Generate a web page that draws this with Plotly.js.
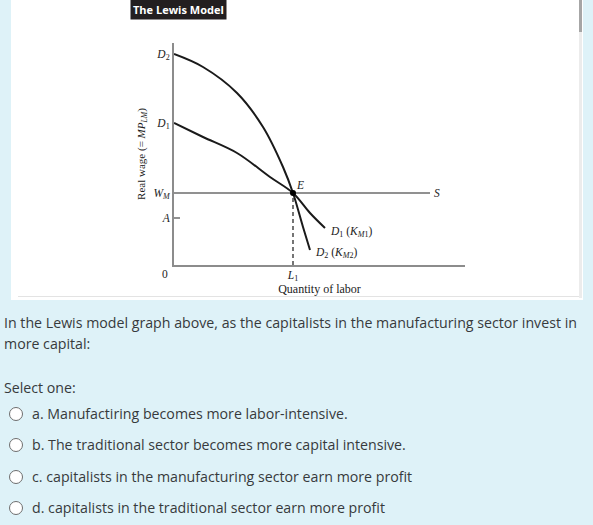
<!DOCTYPE html>
<html>
<head>
<meta charset="utf-8">
<script src="https://cdn.plot.ly/plotly-3.0.1.min.js"></script>
<style>
  body { margin: 0; width: 593px; height: 525px; background-color: #def2f8; overflow: hidden;
         font-family: "Open Sans", sans-serif; color: #373a3c; position: relative; }
  #panel { position: absolute; left: 11px; top: 0; width: 572px; height: 300px; background: #fff; }
  #frame { position: absolute; left: 18px; top: -2px; width: 561px; height: 298px;
           border: 1px solid #e3e3e3; border-top: none; }
  #track { position: absolute; left: 579px; top: 0; width: 3px; height: 298px; background: #ececec; }
  #thumb { position: absolute; left: 579px; top: 0; width: 3px; height: 32px; background: #a6a6a6; }
  #myDiv { position: absolute; left: 18px; top: 0; width: 561px; height: 296px; }
  .txt { position: absolute; left: 4px; font-size: 14.2px; line-height: 21px; white-space: nowrap; }
  .opt { position: absolute; left: 9px; font-size: 14.2px; line-height: 21px; white-space: nowrap; }
  .radio { display: inline-block; width: 12px; height: 12px; border: 1px solid #6e6e6e; border-radius: 50%;
           background: #fff; vertical-align: -2px; margin-right: 9px; }
</style>
</head>
<body>
<div id="panel"></div>
<div id="frame"></div>
<div id="track"></div>
<div id="thumb"></div>
<div id="myDiv"></div>

<div class="txt" style="top:312px">In the Lewis model graph above, as the capitalists in the manufacturing sector invest in<br>more capital:</div>
<div class="txt" style="top:377px">Select one:</div>
<div class="opt" style="top:403px"><span class="radio"></span>a. Manufactiring becomes more labor-intensive.</div>
<div class="opt" style="top:434px"><span class="radio"></span>b. The traditional sector becomes more capital intensive.</div>
<div class="opt" style="top:466px"><span class="radio"></span>c. capitalists in the manufacturing sector earn more profit</div>
<div class="opt" style="top:497px"><span class="radio"></span>d. capitalists in the traditional sector earn more profit</div>

<script>
// Curve points (labour on x, real wage on y)
var d2X = [0, 2.9, 6.3, 8.9, 10.9, 11.9, 12.9, 13.6]
var d2Y = [21.1, 19.8, 17.2, 13.8, 9.8, 7.2, 3.8, 1.5]
var d1X = [0, 2.9, 6.3, 9.6, 11.9, 13.6, 15.1]
var d1Y = [14.2, 12.8, 11.2, 8.8, 7.2, 5.2, 3.7]

var wageM = 7.2   // W_M, manufacturing wage (supply line S)
var wageA = 4.7   // A, traditional sector wage
var laborL1 = 11.9
var supplyEnd = 25.6
var xMax = 29.1
var yMax = 22.2

var yTickVals = [d2Y[0], d1Y[0], wageM, wageA]
var yTickText = ['<i>D</i><sub>2</sub>', '<i>D</i><sub>1</sub>', '<i>W</i><sub><i>M</i></sub>', '<i>A</i>']
var xTickVals = [laborL1]
var xTickText = ['<i>L</i><sub>1</sub>']

var serif = 'Liberation Serif, DejaVu Serif, serif'

var data = [
  {x: d2X, y: d2Y, type: 'scatter', mode: 'lines', line: {color: '#1a1a1a', width: 2, shape: 'spline'}, hoverinfo: 'skip'},
  {x: d1X, y: d1Y, type: 'scatter', mode: 'lines', line: {color: '#1a1a1a', width: 2, shape: 'spline'}, hoverinfo: 'skip'},
  {x: [0, supplyEnd], y: [wageM, wageM], type: 'scatter', mode: 'lines', line: {color: '#6d6d6d', width: 1.5}, hoverinfo: 'skip'},
  {x: [laborL1, laborL1], y: [0, wageM], type: 'scatter', mode: 'lines', line: {color: '#1a1a1a', width: 1.2, dash: '4px,3px'}, hoverinfo: 'skip'},
  {x: [0, 0.6], y: [wageA, wageA], type: 'scatter', mode: 'lines', line: {color: '#6d6d6d', width: 1.5}, hoverinfo: 'skip'},
  {x: [laborL1], y: [wageM], type: 'scatter', mode: 'markers', marker: {color: '#000', size: 6}, hoverinfo: 'skip'}
]

var layout = {
  width: 561,
  height: 296,
  margin: {l: 156, r: 114, t: 43, b: 31},
  paper_bgcolor: '#ffffff',
  plot_bgcolor: '#ffffff',
  showlegend: false,
  font: {family: serif, color: '#222', size: 11},
  xaxis: {
    range: [0, xMax],
    showline: true, linecolor: '#8c8c8c', linewidth: 2,
    showgrid: false, zeroline: false,
    tickvals: xTickVals, ticktext: xTickText, ticks: '', ticklabelstandoff: -2,
    tickfont: {family: serif, size: 11.5, color: '#222'},
    title: {text: 'Quantity of labor', font: {family: serif, size: 12, color: '#222'}, standoff: 3}
  },
  yaxis: {
    range: [0, yMax],
    showline: true, linecolor: '#8c8c8c', linewidth: 2,
    showgrid: false, zeroline: false,
    tickvals: yTickVals, ticktext: yTickText, ticks: '',
    tickfont: {family: serif, size: 11.5, color: '#222'},
    title: {text: 'Real wage (= <i>MP</i><sub><i>LM</i></sub>)', font: {family: serif, size: 11, color: '#222'}, standoff: 6}
  },
  annotations: [
    {text: '<b>The Lewis Model</b>', xref: 'paper', yref: 'paper', x: 0, y: 1, xanchor: 'left', yanchor: 'top',
     xshift: -44, yshift: 44, showarrow: false, bgcolor: '#231f20', borderpad: 2,
     font: {family: 'Open Sans, sans-serif', size: 11, color: '#ffffff'}},
    {text: '<i>E</i>', x: laborL1, y: wageM, xanchor: 'left', yanchor: 'bottom', xshift: 1, yshift: 0, showarrow: false,
     font: {family: serif, size: 11.5}},
    {text: '<i>S</i>', x: supplyEnd, y: wageM, xanchor: 'left', yanchor: 'middle', xshift: 2, showarrow: false,
     font: {family: serif, size: 11.5}},
    {text: '<i>D</i><sub>1</sub> (<i>K</i><sub><i>M</i>1</sub>)', x: d1X[d1X.length - 1], y: d1Y[d1Y.length - 1],
     xanchor: 'left', yanchor: 'middle', xshift: 3, yshift: -4, showarrow: false, font: {family: serif, size: 11.5}},
    {text: '<i>D</i><sub>2</sub> (<i>K</i><sub><i>M</i>2</sub>)', x: d2X[d2X.length - 1], y: d2Y[d2Y.length - 1],
     xanchor: 'left', yanchor: 'middle', xshift: 3, yshift: -3, showarrow: false, font: {family: serif, size: 11.5}},
    {text: '0', x: 0, y: 0, xanchor: 'center', yanchor: 'top', xshift: -9, yshift: -1, showarrow: false,
     font: {family: serif, size: 11.5}}
  ]
}

Plotly.newPlot('myDiv', data, layout, {staticPlot: true, displayModeBar: false})
</script>
</body>
</html>
